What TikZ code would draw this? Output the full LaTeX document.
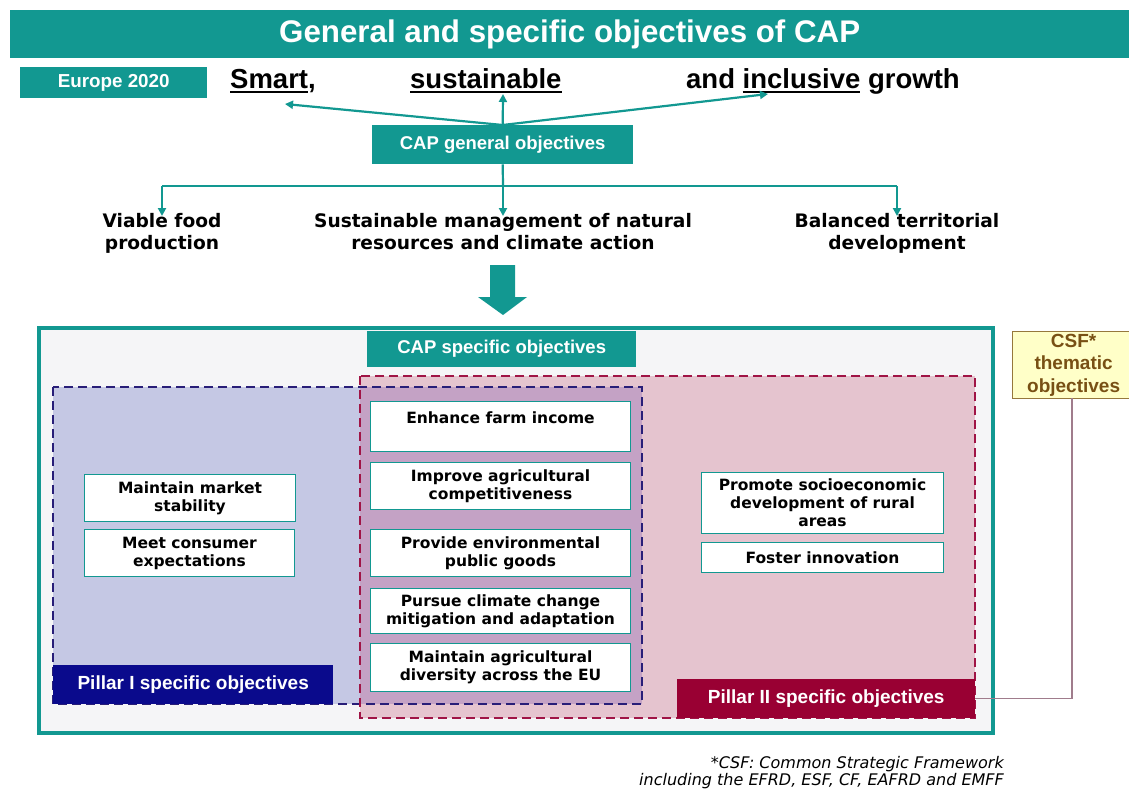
\documentclass[tikz,border=0pt]{standalone}
\usepackage{fontspec}
\setmainfont{Liberation Sans}
\newfontfamily\vfont{DejaVu Sans}
\usetikzlibrary{arrows.meta}
\definecolor{tealc}{RGB}{18,152,145}
\definecolor{outerfill}{RGB}{245,245,247}
\definecolor{p1fill}{RGB}{197,200,228}
\definecolor{p2fill}{RGB}{229,196,207}
\definecolor{ovfill}{RGB}{196,162,197}
\definecolor{p1dash}{RGB}{40,30,120}
\definecolor{p2dash}{RGB}{160,20,70}
\definecolor{p1lab}{RGB}{10,10,140}
\definecolor{p2lab}{RGB}{153,0,51}
\definecolor{csffill}{RGB}{255,255,200}
\definecolor{csfdraw}{RGB}{150,120,60}
\definecolor{csftext}{RGB}{120,80,20}
\definecolor{csfline}{RGB}{160,124,140}
\newcommand\myul[1]{\setbox0\hbox{#1}\rlap{\rule[-4pt]{\wd0}{2pt}}\box0\relax}
\begin{document}
\begin{tikzpicture}[x=1pt,y=-1pt,
  tealbox/.style={fill=tealc,text=white,font=\bfseries\fontsize{18.5}{22}\selectfont,inner sep=0pt,anchor=north west},
  objbox/.style={draw=tealc,line width=1pt,fill=white,font=\vfont\bfseries\fontsize{15.5}{18}\selectfont,align=center,inner sep=0pt,anchor=north west},
  headword/.style={font=\bfseries\fontsize{27.5}{31}\selectfont,inner sep=0pt,anchor=base west},
  genobj/.style={font=\vfont\bfseries\fontsize{18.6}{22}\selectfont,align=center,inner sep=0pt,anchor=north},
  conn/.style={draw=tealc,line width=2.2pt},
  arr/.style={conn,-{Triangle[length=8pt,width=8pt]}},
  labbox/.style={text=white,font=\bfseries\fontsize{19}{22}\selectfont,inner sep=0pt,anchor=north west}
]
\useasboundingbox (0,0) rectangle (1129,789);
\fill[white] (0,0) rectangle (1129,789);

% title
\node[tealbox,minimum width=1119pt,minimum height=48pt,font=\bfseries\fontsize{31.3}{35}\selectfont] (title) at (10,10) {General and specific objectives of CAP};

% Europe 2020 line
\node[tealbox,minimum width=187pt,minimum height=31pt,font=\bfseries\fontsize{18.8}{22}\selectfont] (eu) at (20,67) {Europe 2020};
\node[headword] (smart) at (230,89) {\myul{Smart},};
\node[headword] (sust) at (410,89) {\myul{sustainable}};
\node[headword] (incl) at (686,89) {and \myul{inclusive} growth};
\coordinate (tSmart) at (285,104);
\coordinate (tSust) at (503,94);
\coordinate (tIncl) at (768,94);

% CAP general objectives
\node[tealbox,minimum width=261pt,minimum height=39pt] (gen) at (372,125) {CAP general objectives};
\draw[arr] (gen.north) -- (tSmart);
\draw[arr] (gen.north) -- (tSust);
\draw[arr] (gen.north) -- (tIncl);

\node[genobj] (viable) at (162,213) {Viable food\\production};
\node[genobj] (susman) at (503,213) {Sustainable management of natural\\resources and climate action};
\node[genobj] (bal) at (897,213) {Balanced territorial\\development};
\coordinate (j) at (503,186);
\draw[conn] (gen.south) -- (j);
\draw[conn] (viable.north |- j) -- (bal.north |- j);
\draw[arr] (viable.north |- j) -- ([yshift=-3pt]viable.north);
\draw[arr] (j) -- ([yshift=-3pt]susman.north);
\draw[arr] (bal.north |- j) -- ([yshift=-3pt]bal.north);

% big arrow
\fill[tealc] (490,265) -- (515,265) -- (515,297) -- (527,297) -- (503,315) -- (478,297) -- (490,297) -- cycle;

% outer box
\draw[tealc,line width=4pt,fill=outerfill] (39,328) rectangle (993,733);
\node[tealbox,minimum width=269pt,minimum height=36pt] (spec) at (367,331) {CAP specific objectives};

% pillar regions
\fill[p2fill] (360,376) rectangle (975,718);
\fill[p1fill] (53,387) rectangle (642,704);
\fill[ovfill] (360,387) rectangle (642,704);
\draw[p1dash,line width=2pt,dash pattern=on 9pt off 5pt] (53,387) rectangle (642,704);
\draw[p2dash,line width=2pt,dash pattern=on 9pt off 5pt] (360,376) rectangle (975,718);

% labels
\node[labbox,fill=p1lab,minimum width=280pt,minimum height=39pt] (p1) at (53,665) {Pillar I specific objectives};
\node[labbox,fill=p2lab,minimum width=298pt,minimum height=39pt] (p2) at (677,679) {Pillar II specific objectives};

% objective boxes
\node[objbox,minimum width=211pt,minimum height=47pt] (mms) at (84,474) {Maintain market\\stability};
\node[objbox,minimum width=210pt,minimum height=47pt] (mce) at (84,529) {Meet consumer\\expectations};
\node[objbox,minimum width=260pt,minimum height=50pt] (efi) at (370,401) {Enhance farm income\\\phantom{x}};
\node[objbox,minimum width=260pt,minimum height=47pt] (iac) at (370,462) {Improve agricultural\\competitiveness};
\node[objbox,minimum width=260pt,minimum height=47pt] (pep) at (370,529) {Provide environmental\\public goods};
\node[objbox,minimum width=260pt,minimum height=45pt] (pcc) at (370,588) {Pursue climate change\\mitigation and adaptation};
\node[objbox,minimum width=260pt,minimum height=48pt] (mad) at (370,643) {Maintain agricultural\\diversity across the EU};
\node[objbox,minimum width=242pt,minimum height=61pt] (psd) at (701,472) {Promote socioeconomic\\development of rural\\areas};
\node[objbox,minimum width=242pt,minimum height=30pt] (fi) at (701,542) {Foster innovation};

% CSF
\node[draw=csfdraw,line width=1.2pt,fill=csffill,text=csftext,font=\bfseries\fontsize{19}{22.5}\selectfont,align=center,inner sep=0pt,anchor=north west,minimum width=122pt,minimum height=67pt] (csf) at (1012,331) {CSF*\\thematic\\objectives};
\draw[csfline,line width=1.5pt] (1072,398) |- (p2.east);

% footnote
\node[font=\vfont\itshape\fontsize{16}{17.5}\selectfont,align=right,inner sep=0pt,anchor=north east] (foot) at (1004,756) {*CSF: Common Strategic Framework\\including the EFRD, ESF, CF, EAFRD and EMFF};
\end{tikzpicture}
\end{document}
